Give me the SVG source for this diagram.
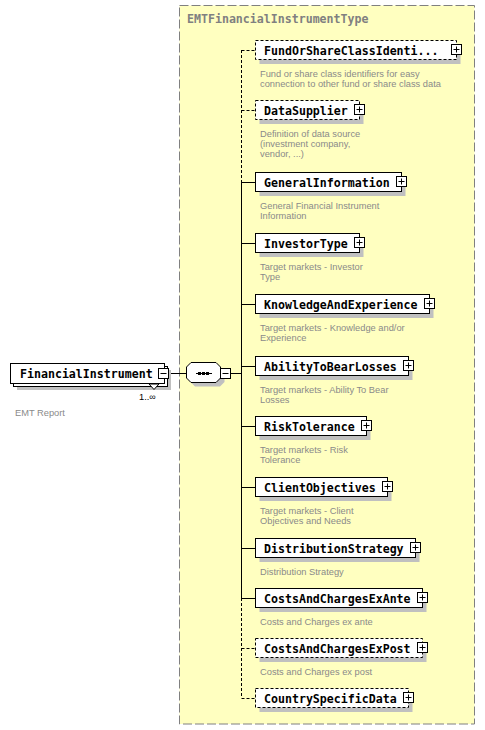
<svg xmlns="http://www.w3.org/2000/svg" width="485" height="730" viewBox="0 0 485 730">
<style>
.box{fill:#fff;stroke:#000;stroke-width:1}
.opt{stroke-dasharray:3,2}
.sh{fill:#c0c0c0}
.nm{font-family:"DejaVu Sans Mono","Liberation Mono",monospace;font-weight:bold;font-size:11.6px;fill:#000}
.ds{font-family:"Liberation Sans",Arial,sans-serif;font-size:9.3px;fill:#8a8a8a}
.ln{stroke:#000;stroke-width:1;fill:none}
.dl{stroke:#000;stroke-width:1;fill:none;stroke-dasharray:3,2}
.ic{fill:#fff;stroke:#000;stroke-width:1}
</style>
<defs>
<g id="plus"><rect class="ic" x="0" y="0" width="10" height="10"/><path class="ln" d="M2,5H8M5,2V8"/></g>
</defs>
<rect x="0" y="0" width="485" height="730" fill="#fff"/>
<g id="container">
<rect x="179.5" y="5.5" width="295" height="718.5" fill="#ffffc0" stroke="#808080" stroke-dasharray="9,3"/>
<text x="187" y="23" class="nm" fill="#808080" style="fill:#808080">EMTFinancialInstrumentType</text>
</g>
<g id="connectors">
<path class="ln" d="M168.5,373.5H186.5M230.5,373.5H241.5"/>
<path class="dl" d="M241.5,50V182"/>
<path class="ln" d="M241.5,182V598"/>
<path class="dl" d="M241.5,598V698"/>
<path class="dl" d="M241.5,50.5H255.5M241.5,110.5H255.5M241.5,648.5H255.5M241.5,698.5H255.5"/>
<path class="ln" d="M241.5,182.5H255.5M241.5,243.5H255.5M241.5,304.5H255.5M241.5,366.5H255.5M241.5,426.5H255.5M241.5,487.5H255.5M241.5,548.5H255.5M241.5,598.5H255.5"/>
</g>
<g id="FinancialInstrument">
<rect class="sh" x="17" y="370" width="154" height="20"/>
<rect class="box" x="13.5" y="366.5" width="154" height="20"/>
<rect class="box" x="10.5" y="363.5" width="154" height="20"/>
<polygon points="149,384 154,389.5 159,384" fill="#fff" stroke="#000"/>
<text x="20" y="377.5" class="nm">FinancialInstrument</text>
<rect class="ic" x="158.5" y="368.5" width="10" height="10"/>
<path class="ln" d="M160.5,373.5H166.5"/>
<text x="139" y="400" font-family="Liberation Sans, Arial, sans-serif" font-size="9.3" fill="#000">1..∞</text>
<text x="15" y="416" class="ds">EMT Report</text>
</g>
<g id="sequence">
<polygon points="195,366.5 220,366.5 224.5,371 224.5,382 220,386.5 195,386.5 190.5,382 190.5,371" class="sh"/>
<polygon points="191,362.5 216,362.5 220.5,367 220.5,378 216,382.5 191,382.5 186.5,378 186.5,367" class="box"/>
<path class="ln" d="M196,373.5H212"/>
<rect x="198" y="372" width="3" height="3" fill="#000"/>
<rect x="202" y="372" width="3" height="3" fill="#000"/>
<rect x="206" y="372" width="3" height="3" fill="#000"/>
<rect class="ic" x="220.5" y="368.5" width="10" height="10"/>
<path class="ln" d="M222.5,373.5H228.5"/>
</g>
<g id="FundOrShareClassIdentification">
<rect class="sh" x="259.5" y="44" width="201" height="20"/>
<rect class="box opt" x="255.5" y="40.5" width="201" height="19"/>
<text x="264" y="55" class="nm">FundOrShareClassIdenti...</text>
<use href="#plus" x="451.5" y="44.5"/>
<text x="260" y="76.5" class="ds">Fund or share class identifiers for easy</text>
<text x="260" y="86.5" class="ds">connection to other fund or share class data</text>
</g>
<g id="DataSupplier">
<rect class="sh" x="259.5" y="104" width="104" height="20"/>
<rect class="box opt" x="255.5" y="100.5" width="104" height="19"/>
<text x="264" y="115" class="nm">DataSupplier</text>
<use href="#plus" x="354.5" y="104.5"/>
<text x="260" y="136.5" class="ds">Definition of data source</text>
<text x="260" y="146.5" class="ds">(investment company,</text>
<text x="260" y="156.5" class="ds">vendor, ...)</text>
</g>
<g id="GeneralInformation">
<rect class="sh" x="259.5" y="176" width="146" height="20"/>
<rect class="box" x="255.5" y="172.5" width="146" height="19"/>
<text x="264" y="187" class="nm">GeneralInformation</text>
<use href="#plus" x="396.5" y="176.5"/>
<text x="260" y="208.5" class="ds">General Financial Instrument</text>
<text x="260" y="218.5" class="ds">Information</text>
</g>
<g id="InvestorType">
<rect class="sh" x="259.5" y="237" width="104" height="20"/>
<rect class="box" x="255.5" y="233.5" width="104" height="19"/>
<text x="264" y="248" class="nm">InvestorType</text>
<use href="#plus" x="354.5" y="237.5"/>
<text x="260" y="269.5" class="ds">Target markets - Investor</text>
<text x="260" y="279.5" class="ds">Type</text>
</g>
<g id="KnowledgeAndExperience">
<rect class="sh" x="259.5" y="298" width="174" height="20"/>
<rect class="box" x="255.5" y="294.5" width="174" height="19"/>
<text x="264" y="309" class="nm">KnowledgeAndExperience</text>
<use href="#plus" x="424.5" y="298.5"/>
<text x="260" y="330.5" class="ds">Target markets - Knowledge and/or</text>
<text x="260" y="340.5" class="ds">Experience</text>
</g>
<g id="AbilityToBearLosses">
<rect class="sh" x="259.5" y="360" width="153" height="20"/>
<rect class="box" x="255.5" y="356.5" width="153" height="19"/>
<text x="264" y="371" class="nm">AbilityToBearLosses</text>
<use href="#plus" x="403.5" y="360.5"/>
<text x="260" y="392.5" class="ds">Target markets - Ability To Bear</text>
<text x="260" y="402.5" class="ds">Losses</text>
</g>
<g id="RiskTolerance">
<rect class="sh" x="259.5" y="420" width="111" height="20"/>
<rect class="box" x="255.5" y="416.5" width="111" height="19"/>
<text x="264" y="431" class="nm">RiskTolerance</text>
<use href="#plus" x="361.5" y="420.5"/>
<text x="260" y="452.5" class="ds">Target markets - Risk</text>
<text x="260" y="462.5" class="ds">Tolerance</text>
</g>
<g id="ClientObjectives">
<rect class="sh" x="259.5" y="481" width="132" height="20"/>
<rect class="box" x="255.5" y="477.5" width="132" height="19"/>
<text x="264" y="492" class="nm">ClientObjectives</text>
<use href="#plus" x="382.5" y="481.5"/>
<text x="260" y="513.5" class="ds">Target markets - Client</text>
<text x="260" y="523.5" class="ds">Objectives and Needs</text>
</g>
<g id="DistributionStrategy">
<rect class="sh" x="259.5" y="542" width="160" height="20"/>
<rect class="box" x="255.5" y="538.5" width="160" height="19"/>
<text x="264" y="553" class="nm">DistributionStrategy</text>
<use href="#plus" x="410.5" y="542.5"/>
<text x="260" y="574.5" class="ds">Distribution Strategy</text>
</g>
<g id="CostsAndChargesExAnte">
<rect class="sh" x="259.5" y="592" width="167" height="20"/>
<rect class="box" x="255.5" y="588.5" width="167" height="19"/>
<text x="264" y="603" class="nm">CostsAndChargesExAnte</text>
<use href="#plus" x="417.5" y="592.5"/>
<text x="260" y="624.5" class="ds">Costs and Charges ex ante</text>
</g>
<g id="CostsAndChargesExPost">
<rect class="sh" x="259.5" y="642" width="167" height="20"/>
<rect class="box opt" x="255.5" y="638.5" width="167" height="19"/>
<text x="264" y="653" class="nm">CostsAndChargesExPost</text>
<use href="#plus" x="417.5" y="642.5"/>
<text x="260" y="674.5" class="ds">Costs and Charges ex post</text>
</g>
<g id="CountrySpecificData">
<rect class="sh" x="259.5" y="692" width="153" height="20"/>
<rect class="box opt" x="255.5" y="688.5" width="153" height="19"/>
<text x="264" y="703" class="nm">CountrySpecificData</text>
<use href="#plus" x="403.5" y="692.5"/>
</g>
</svg>
